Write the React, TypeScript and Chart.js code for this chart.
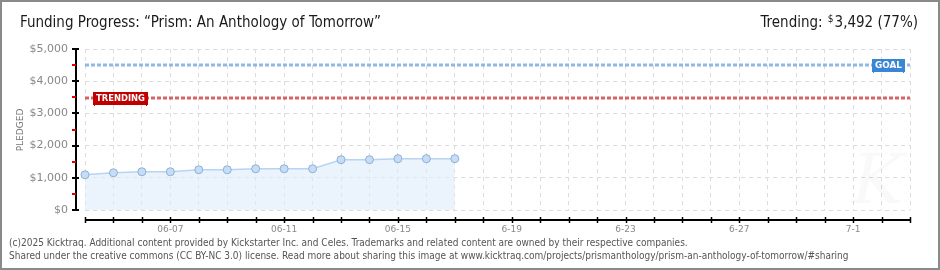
import React, { useEffect, useRef } from "react";
import { Chart, registerables } from "chart.js";

Chart.register(...registerables);

const categories = [
  "06-04", "06-05", "06-06", "06-07", "06-08", "06-09", "06-10", "06-11", "06-12", "06-13",
  "06-14", "06-15", "06-16", "06-17", "06-18", "06-19", "06-20", "06-21", "06-22", "06-23",
  "06-24", "06-25", "06-26", "06-27", "06-28", "06-29", "06-30", "07-01", "07-02", "07-03",
];
const pledged = [1094, 1156, 1188, 1188, 1250, 1250, 1281, 1281, 1281, 1563, 1563, 1594, 1594, 1594];
const tickDates = ["06-07", "06-11", "06-15", "06-19", "06-23", "06-27", "07-01"];
const tickTexts = ["06-07", "06-11", "06-15", "6-19", "6-23", "6-27", "7-1"];
const goal = 4500;
const trending = 3492;
const yTicks = [0, 1000, 2000, 3000, 4000, 5000];
const titleText = "Funding Progress: \u201cPrism: An Anthology of Tomorrow\u201d";
const trendingText = "3,492 (77%)";
const footer1 =
  "(c)2025 Kicktraq. Additional content provided by Kickstarter Inc. and Celes. Trademarks and related content are owned by their respective companies.";
const footer2 =
  "Shared under the creative commons (CC BY-NC 3.0) license. Read more about sharing this image at www.kicktraq.com/projects/prismanthology/prism-an-anthology-of-tomorrow/#sharing";

const fmt = (v: number) => "$" + v.toLocaleString("en-US");

const decor = {
  id: "decor",
  beforeDraw(chart: any) {
    const { ctx, width, height } = chart;
    ctx.save();
    ctx.fillStyle = "#ffffff";
    ctx.fillRect(0, 0, width, height);
    ctx.restore();
  },
  beforeDatasetsDraw(chart: any) {
    const { ctx } = chart;
    ctx.save();
    ctx.fillStyle = "rgba(0,0,0,0.025)";
    ctx.font = "italic 70px 'DejaVu Serif'";
    ctx.textAlign = "center";
    ctx.textBaseline = "middle";
    ctx.fillText("K", 878, 185);
    ctx.restore();
  },
  afterDraw(chart: any) {
    const { ctx, chartArea, width, height } = chart;
    const xs = chart.scales.x;
    const ys = chart.scales.y;
    ctx.save();

    // y axis
    ctx.strokeStyle = "#000";
    ctx.lineWidth = 2;
    ctx.beginPath();
    ctx.moveTo(76, ys.getPixelForValue(5000));
    ctx.lineTo(76, ys.getPixelForValue(0) + 1);
    ctx.stroke();
    for (const v of yTicks) {
      const y = Math.round(ys.getPixelForValue(v));
      ctx.beginPath();
      ctx.moveTo(72, y);
      ctx.lineTo(79, y);
      ctx.stroke();
    }
    ctx.strokeStyle = "#e00000";
    for (let v = 500; v < 5000; v += 1000) {
      const y = Math.round(ys.getPixelForValue(v));
      ctx.beginPath();
      ctx.moveTo(72, y);
      ctx.lineTo(76, y);
      ctx.stroke();
    }

    // x axis
    ctx.strokeStyle = "#000";
    ctx.lineWidth = 2;
    ctx.beginPath();
    ctx.moveTo(xs.getPixelForValue(0), 220);
    ctx.lineTo(xs.getPixelForValue(categories.length - 1), 220);
    ctx.stroke();
    ctx.lineWidth = 1.5;
    for (let i = 0; i < categories.length; i++) {
      const x = Math.round(xs.getPixelForValue(i)) + 0.5;
      ctx.beginPath();
      ctx.moveTo(x, 217);
      ctx.lineTo(x, 223);
      ctx.stroke();
    }

    // goal / trending lines
    const drawRef = (val: number, color: string) => {
      const y = Math.round(ys.getPixelForValue(val));
      ctx.strokeStyle = color;
      ctx.lineWidth = 3;
      ctx.setLineDash([4, 2]);
      ctx.beginPath();
      ctx.moveTo(chartArea.left, y);
      ctx.lineTo(chartArea.right, y);
      ctx.stroke();
      ctx.setLineDash([]);
      return y;
    };
    const drawTag = (text: string, x: number, yc: number, w: number, bg: string) => {
      ctx.fillStyle = bg;
      ctx.fillRect(x, yc - 6, w, 13);
      ctx.fillRect(x + 1, yc + 7, 1, 1);
      ctx.fillRect(x + w - 2, yc + 7, 1, 1);
      ctx.fillStyle = "#fff";
      ctx.font = "bold 9px 'DejaVu Sans'";
      ctx.textAlign = "center";
      ctx.textBaseline = "middle";
      ctx.fillText(text, x + w / 2, yc + 0.5, w - 6);
    };
    const gy = drawRef(goal, "rgba(110,160,220,0.75)");
    const ty = drawRef(trending, "rgba(200,50,50,0.75)");
    drawTag("GOAL", 872, gy, 33, "#3a86d6");
    drawTag("TRENDING", 93, ty, 55, "#c00000");

    // PLEDGED label
    ctx.save();
    ctx.translate(21, 130);
    ctx.rotate(-Math.PI / 2);
    ctx.fillStyle = "#777";
    ctx.font = "9px 'DejaVu Sans'";
    ctx.textAlign = "center";
    ctx.textBaseline = "middle";
    ctx.fillText("PLEDGED", 0, 0);
    ctx.restore();

    // title
    ctx.fillStyle = "#1a1a1a";
    ctx.font = "15px 'DejaVu Sans Condensed', 'DejaVu Sans'";
    ctx.textAlign = "left";
    ctx.textBaseline = "middle";
    ctx.fillText(titleText, 20, 23, 368);

    // trending right
    ctx.textAlign = "right";
    ctx.font = "15px 'DejaVu Sans Condensed', 'DejaVu Sans'";
    ctx.fillText(trendingText, 918, 23, 84);
    const tw = Math.min(ctx.measureText(trendingText).width, 84);
    ctx.font = "10px 'DejaVu Sans Condensed', 'DejaVu Sans'";
    ctx.fillText("$", 918 - tw - 1, 19);
    ctx.font = "15px 'DejaVu Sans Condensed', 'DejaVu Sans'";
    ctx.fillText("Trending:", 918 - tw - 12, 23, 62);

    // footer
    ctx.fillStyle = "#555";
    ctx.textAlign = "left";
    ctx.font = "10px 'DejaVu Sans Condensed', 'DejaVu Sans'";
    ctx.fillText(footer1, 9, 243, 697);
    ctx.fillText(footer2, 9, 256, 876);

    // border
    ctx.strokeStyle = "#8a8a8a";
    ctx.lineWidth = 2;
    ctx.strokeRect(1, 1, width - 2, height - 2);
    ctx.restore();
  },
};

export default function App() {
  const ref = useRef<HTMLCanvasElement>(null);
  useEffect(() => {
    if (!ref.current) return;
    const chart = new Chart(ref.current, {
      type: "line",
      data: {
        labels: categories,
        datasets: [
          {
            data: pledged,
            borderColor: "#b7d4f2",
            borderWidth: 1.5,
            backgroundColor: "rgba(222,236,251,0.6)",
            fill: "origin",
            tension: 0,
            pointRadius: 4,
            pointBackgroundColor: "#c6ddf7",
            pointBorderColor: "#8fb0d3",
            pointBorderWidth: 1,
          },
        ],
      },
      options: {
        animation: false,
        responsive: false,
        maintainAspectRatio: false,
        layout: { padding: { left: 0, right: 30, top: 49, bottom: 0 } },
        plugins: { legend: { display: false }, tooltip: { enabled: false } },
        scales: {
          x: {
            type: "category",
            offset: false,
            afterFit: (s: any) => {
              s.height = 60;
            },
            border: { display: false, dash: [4, 4] },
            grid: {
              drawTicks: false,
              color: "#dcdcdc",
              lineWidth: 1,
            },
            ticks: {
              autoSkip: false,
              maxRotation: 0,
              padding: 14,
              color: "#888",
              font: { family: "'DejaVu Sans'", size: 9 },
              callback: (_v: any, i: number) => {
                const k = tickDates.indexOf(categories[i]);
                return k >= 0 ? tickTexts[k] : "";
              },
            },
          },
          y: {
            min: 0,
            max: 5000,
            afterFit: (s: any) => {
              s.width = 85;
            },
            border: { display: false, dash: [4, 4] },
            grid: { drawTicks: false, color: "#dcdcdc", lineWidth: 1 },
            ticks: {
              stepSize: 1000,
              padding: 17,
              color: "#888",
              font: { family: "'DejaVu Sans'", size: 11 },
              callback: (v: any) => fmt(Number(v)),
            },
          },
        },
      },
      plugins: [decor],
    });
    return () => chart.destroy();
  }, []);
  return (
    <div style={{ position: "fixed", left: 0, top: 0, width: 940, height: 270 }}>
      <canvas ref={ref} width={940} height={270} style={{ display: "block" }} />
    </div>
  );
}
